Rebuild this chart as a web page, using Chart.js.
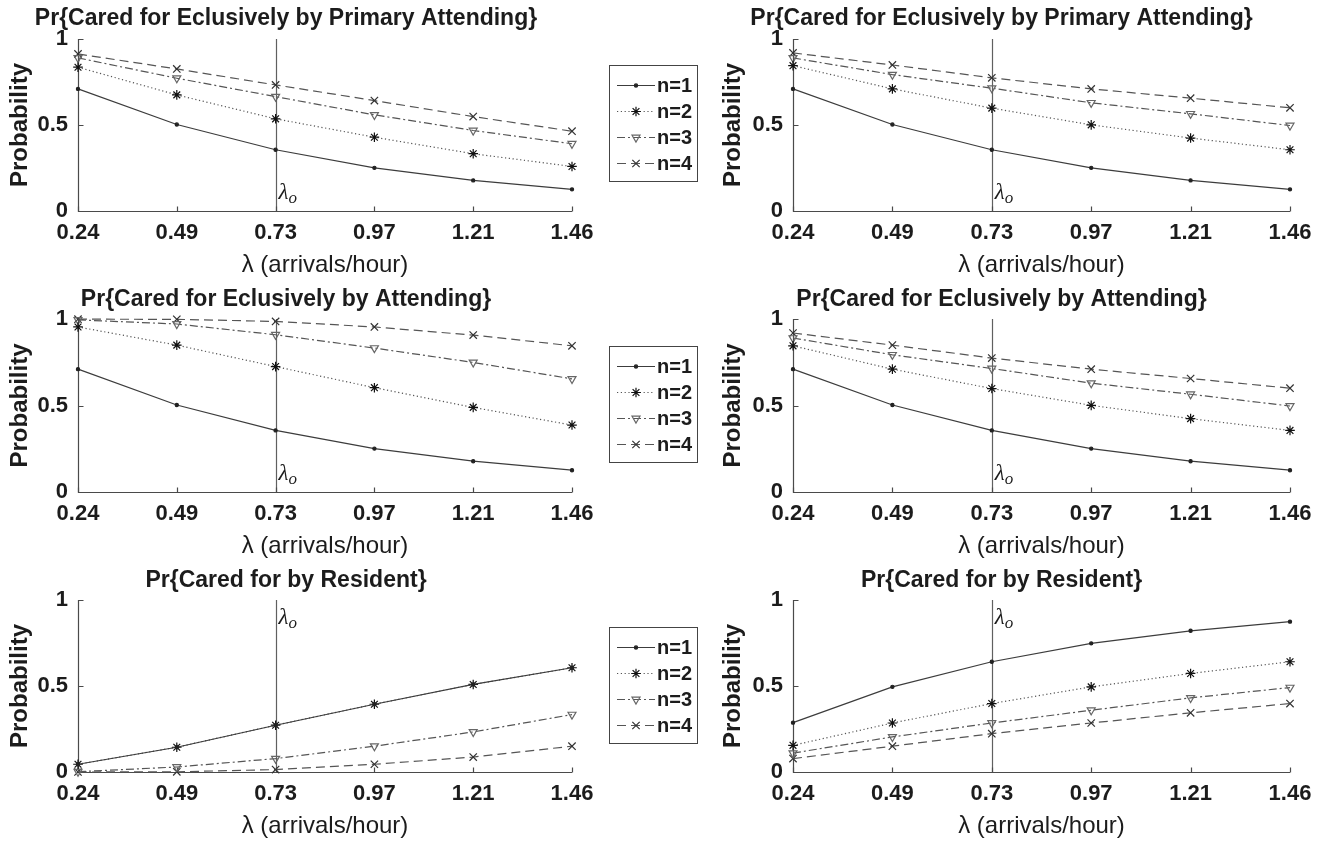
<!DOCTYPE html>
<html><head><meta charset="utf-8">
<script src="https://cdn.jsdelivr.net/npm/chart.js@4.4.0/dist/chart.umd.min.js"></script>
<style>
html,body{margin:0;padding:0;background:#fff;width:1323px;height:846px;overflow:hidden}
canvas{position:absolute;display:block}
</style></head><body>
<canvas id="c0"></canvas><canvas id="c1"></canvas>
<canvas id="c2"></canvas><canvas id="c3"></canvas>
<canvas id="c4"></canvas><canvas id="c5"></canvas>
<script>
// ---------- data ----------
const lambdaLabels = ['0.24','0.49','0.73','0.97','1.21','1.46'];
const yTickValues = [0, 0.5, 1];
const seriesNames = ['n=1','n=2','n=3','n=4'];
const lambdaO = '0.73';

// Pr{Cared for Eclusively by Primary Attending} (left)
const primL_n1 = [0.710,0.503,0.356,0.251,0.178,0.126];
const primL_n2 = [0.836,0.675,0.536,0.429,0.333,0.259];
const primL_n3 = [0.890,0.772,0.665,0.559,0.468,0.391];
const primL_n4 = [0.913,0.826,0.733,0.642,0.549,0.464];
// Pr{Cared for Eclusively by Primary Attending} (right)
const primR_n1 = [0.710,0.503,0.356,0.251,0.178,0.126];
const primR_n2 = [0.845,0.710,0.598,0.501,0.424,0.356];
const primR_n3 = [0.890,0.793,0.714,0.629,0.565,0.497];
const primR_n4 = [0.919,0.849,0.774,0.710,0.656,0.600];
// Pr{Cared for Eclusively by Attending} (left)
const attL_n1 = [0.710,0.503,0.356,0.251,0.178,0.126];
const attL_n2 = [0.954,0.849,0.725,0.603,0.489,0.387];
const attL_n3 = [0.995,0.971,0.909,0.832,0.749,0.654];
const attL_n4 = [0.999,0.998,0.986,0.954,0.907,0.845];
// Pr{Cared for Eclusively by Attending} (right)
const attR_n1 = [0.710,0.503,0.356,0.251,0.178,0.126];
const attR_n2 = [0.845,0.710,0.598,0.501,0.424,0.356];
const attR_n3 = [0.890,0.793,0.714,0.629,0.565,0.497];
const attR_n4 = [0.919,0.849,0.774,0.710,0.656,0.600];
// Pr{Cared for by Resident} (left)
const resL_n1 = [0.045,0.144,0.272,0.394,0.509,0.606];
const resL_n2 = [0.045,0.144,0.272,0.394,0.509,0.606];
const resL_n3 = [0.002,0.029,0.078,0.150,0.233,0.334];
const resL_n4 = [0.000,0.001,0.014,0.045,0.087,0.150];
// Pr{Cared for by Resident} (right)
const resR_n1 = [0.287,0.495,0.641,0.748,0.821,0.874];
const resR_n2 = [0.155,0.285,0.398,0.495,0.573,0.641];
const resR_n3 = [0.110,0.204,0.285,0.359,0.431,0.491];
const resR_n4 = [0.078,0.150,0.223,0.285,0.344,0.398];

const titlePrimary = 'Pr{Cared for Eclusively by Primary Attending}';
const titleAttending = 'Pr{Cared for Eclusively by Attending}';
const titleResident = 'Pr{Cared for by Resident}';
const xTitle = '\u03bb (arrivals/hour)';
const yTitle = 'Probability';

// ---------- styling / layout ----------
const FONT = "'Liberation Sans', Arial, Helvetica, sans-serif";
const TXT = '#1c1c1c';
const AXC = '#4a4a4a';
const styles = [
  {dash:[],          color:'#3c3c3c', point:'circle',   r:1.6, rot:0,   pc:'#222', fill:'#222'},
  {dash:[1.2,2.6],   color:'#555',    point:'star',     r:4.8, rot:0,   pc:'#111', fill:'#111'},
  {dash:[8,3,2,3],   color:'#555',    point:'triangle', r:4.6, rot:180, pc:'#666', fill:'rgba(255,255,255,0)'},
  {dash:[9,5],       color:'#555',    point:'crossRot', r:5.2, rot:0,   pc:'#333', fill:'#333'}
];
const rowTop = [0,281,562], rowH = [281,281,284];
const aTop = [39,38,38], aBottom = [211,211,210];
const colLeft = [0,713], colW = [713,610], aLeft = [78,80], aRight = [572,577];

const panels = [
  {id:'c0', row:0, col:0, title:titlePrimary,   data:[primL_n1,primL_n2,primL_n3,primL_n4], legend:true,  lamY:0.05},
  {id:'c1', row:0, col:1, title:titlePrimary,   data:[primR_n1,primR_n2,primR_n3,primR_n4], legend:false, lamY:0.05},
  {id:'c2', row:1, col:0, title:titleAttending, data:[attL_n1,attL_n2,attL_n3,attL_n4],     legend:true,  lamY:0.05},
  {id:'c3', row:1, col:1, title:titleAttending, data:[attR_n1,attR_n2,attR_n3,attR_n4],     legend:false, lamY:0.05},
  {id:'c4', row:2, col:0, title:titleResident,  data:[resL_n1,resL_n2,resL_n3,resL_n4],     legend:true,  lamY:0.845},
  {id:'c5', row:2, col:1, title:titleResident,  data:[resR_n1,resR_n2,resR_n3,resR_n4],     legend:false, lamY:0.845}
];

function drawMarker(ctx, st, x, y){
  ctx.save();
  ctx.setLineDash([]);
  ctx.lineWidth = 1.2;
  ctx.strokeStyle = st.pc; ctx.fillStyle = st.fill;
  if (Chart.helpers && Chart.helpers.drawPoint) {
    Chart.helpers.drawPoint(ctx, {pointStyle:st.point, radius:st.r, rotation:st.rot, borderWidth:1.2}, x, y);
  }
  ctx.restore();
}

const decor = {
  id:'decor',
  beforeDatasetsDraw(chart, args, o){
    const {ctx, chartArea:a, scales:{x,y}} = chart;
    ctx.save();
    ctx.setLineDash([]);
    // lambda_o line
    const lx = Math.round(x.getPixelForValue(lambdaLabels.indexOf(lambdaO))) + 0.5;
    ctx.strokeStyle = '#606060'; ctx.lineWidth = 1.2;
    ctx.beginPath(); ctx.moveTo(lx, y.getPixelForValue(0)); ctx.lineTo(lx, y.getPixelForValue(1)); ctx.stroke();
    // axes
    ctx.strokeStyle = AXC; ctx.lineWidth = 1.2;
    const l = Math.round(a.left)+0.5, b = Math.round(a.bottom)+0.5;
    ctx.beginPath();
    ctx.moveTo(l, a.top); ctx.lineTo(l, b); ctx.lineTo(a.right, b);
    ctx.stroke();
    // inward ticks
    ctx.beginPath();
    lambdaLabels.forEach((_,i)=>{ const px = Math.round(x.getPixelForValue(i))+0.5; ctx.moveTo(px,b); ctx.lineTo(px,b-5); });
    yTickValues.forEach(v=>{ const py = Math.round(y.getPixelForValue(v))+0.5; ctx.moveTo(l,py); ctx.lineTo(l+5,py); });
    ctx.stroke();
    ctx.restore();
  },
  afterDraw(chart, args, o){
    const {ctx, scales:{x,y}} = chart;
    const p = o.panel;
    ctx.save();
    // lambda_o label
    const lx = x.getPixelForValue(lambdaLabels.indexOf(lambdaO));
    const ly = y.getPixelForValue(p.lamY);
    ctx.fillStyle = TXT; ctx.textBaseline = 'alphabetic'; ctx.textAlign = 'left';
    ctx.font = "italic 23px 'Liberation Serif', 'DejaVu Serif', serif";
    ctx.fillText('\u03bb', lx + 3, ly - 3);
    const w = ctx.measureText('\u03bb').width;
    ctx.font = "italic 17px 'Liberation Serif', 'DejaVu Serif', serif";
    ctx.fillText('o', lx + 3 + w, ly + 1);
    // legend
    if (p.legend) {
      const bx = 609.5, by = 65.5, bw = 88, bh = 116;
      ctx.fillStyle = '#fff'; ctx.fillRect(bx, by, bw, bh);
      ctx.strokeStyle = '#444'; ctx.lineWidth = 1; ctx.setLineDash([]);
      ctx.strokeRect(bx, by, bw, bh);
      seriesNames.forEach((nm,i)=>{
        const st = styles[i];
        const yy = 85 + 26*i;
        ctx.save();
        ctx.strokeStyle = st.color; ctx.lineWidth = 1.2; ctx.setLineDash(st.dash);
        ctx.beginPath(); ctx.moveTo(617, yy+0.5); ctx.lineTo(655, yy+0.5); ctx.stroke();
        ctx.restore();
        drawMarker(ctx, st, 636, yy+0.5);
        ctx.fillStyle = TXT; ctx.font = "bold 20px " + FONT; ctx.textBaseline = 'middle'; ctx.textAlign = 'left';
        ctx.fillText(nm, 657, yy+1);
      });
    }
    ctx.restore();
  }
};

panels.forEach(p=>{
  const cv = document.getElementById(p.id);
  const W = colW[p.col], H = rowH[p.row];
  cv.width = W; cv.height = H;
  cv.style.left = colLeft[p.col] + 'px'; cv.style.top = rowTop[p.row] + 'px';
  cv.style.width = W + 'px'; cv.style.height = H + 'px';
  const tFont = 23, tLH = tFont*1.2;
  const titleTop = 19 - tLH/2;
  const titleBottom = aTop[p.row] - titleTop - tLH;
  const xtFont = 24, xtLH = xtFont*1.2;
  const xtPadB = H - aBottom[p.row] - 54 - xtLH/2;
  const ytFont = 24, ytLH = ytFont*1.2;
  new Chart(cv, {
    type:'line',
    data:{
      labels: lambdaLabels,
      datasets: seriesNames.map((nm,i)=>({
        label:nm, data:p.data[i],
        borderColor:styles[i].color, borderWidth:1.2, borderDash:styles[i].dash,
        pointStyle:styles[i].point, pointRadius:styles[i].r, pointRotation:styles[i].rot,
        pointBorderColor:styles[i].pc, pointBackgroundColor:styles[i].fill, pointBorderWidth:1.2,
        tension:0, fill:false, clip:false
      }))
    },
    options:{
      responsive:false, animation:false, events:[],
      devicePixelRatio:1,
      layout:{padding:{left:0, top:0, bottom:0, right: W - aRight[p.col]}},
      plugins:{
        legend:{display:false}, tooltip:{enabled:false},
        title:{display:true, text:p.title, color:TXT,
          font:{family:FONT, size:tFont, weight:'bold', lineHeight:1.2},
          padding:{top:titleTop, bottom:titleBottom}},
        decor:{panel:p}
      },
      scales:{
        x:{
          type:'category', offset:false,
          grid:{display:false, drawTicks:false}, border:{display:false},
          ticks:{color:TXT, font:{family:FONT, size:22, weight:'bold'}, padding:9, maxRotation:0, autoSkip:false},
          title:{display:true, text:xTitle, color:TXT, font:{family:FONT, size:xtFont, lineHeight:1.2}, padding:{top:0, bottom:xtPadB}},
          afterFit(s){ s.height = H - aBottom[p.row]; }
        },
        y:{
          min:0, max:1,
          grid:{display:false, drawTicks:false}, border:{display:false},
          afterBuildTicks(s){ s.ticks = yTickValues.map(v=>({value:v})); },
          ticks:{color:TXT, font:{family:FONT, size:22, weight:'bold'}, padding:10,
            callback:(v)=>String(Number(v))},
          title:{display:true, text:yTitle, color:TXT, font:{family:FONT, size:ytFont, weight:'bold', lineHeight:1.2}, padding:{top:20 - ytLH/2, bottom:0}},
          afterFit(s){ s.width = aLeft[p.col]; }
        }
      }
    },
    plugins:[decor]
  });
});
</script>
</body></html>
